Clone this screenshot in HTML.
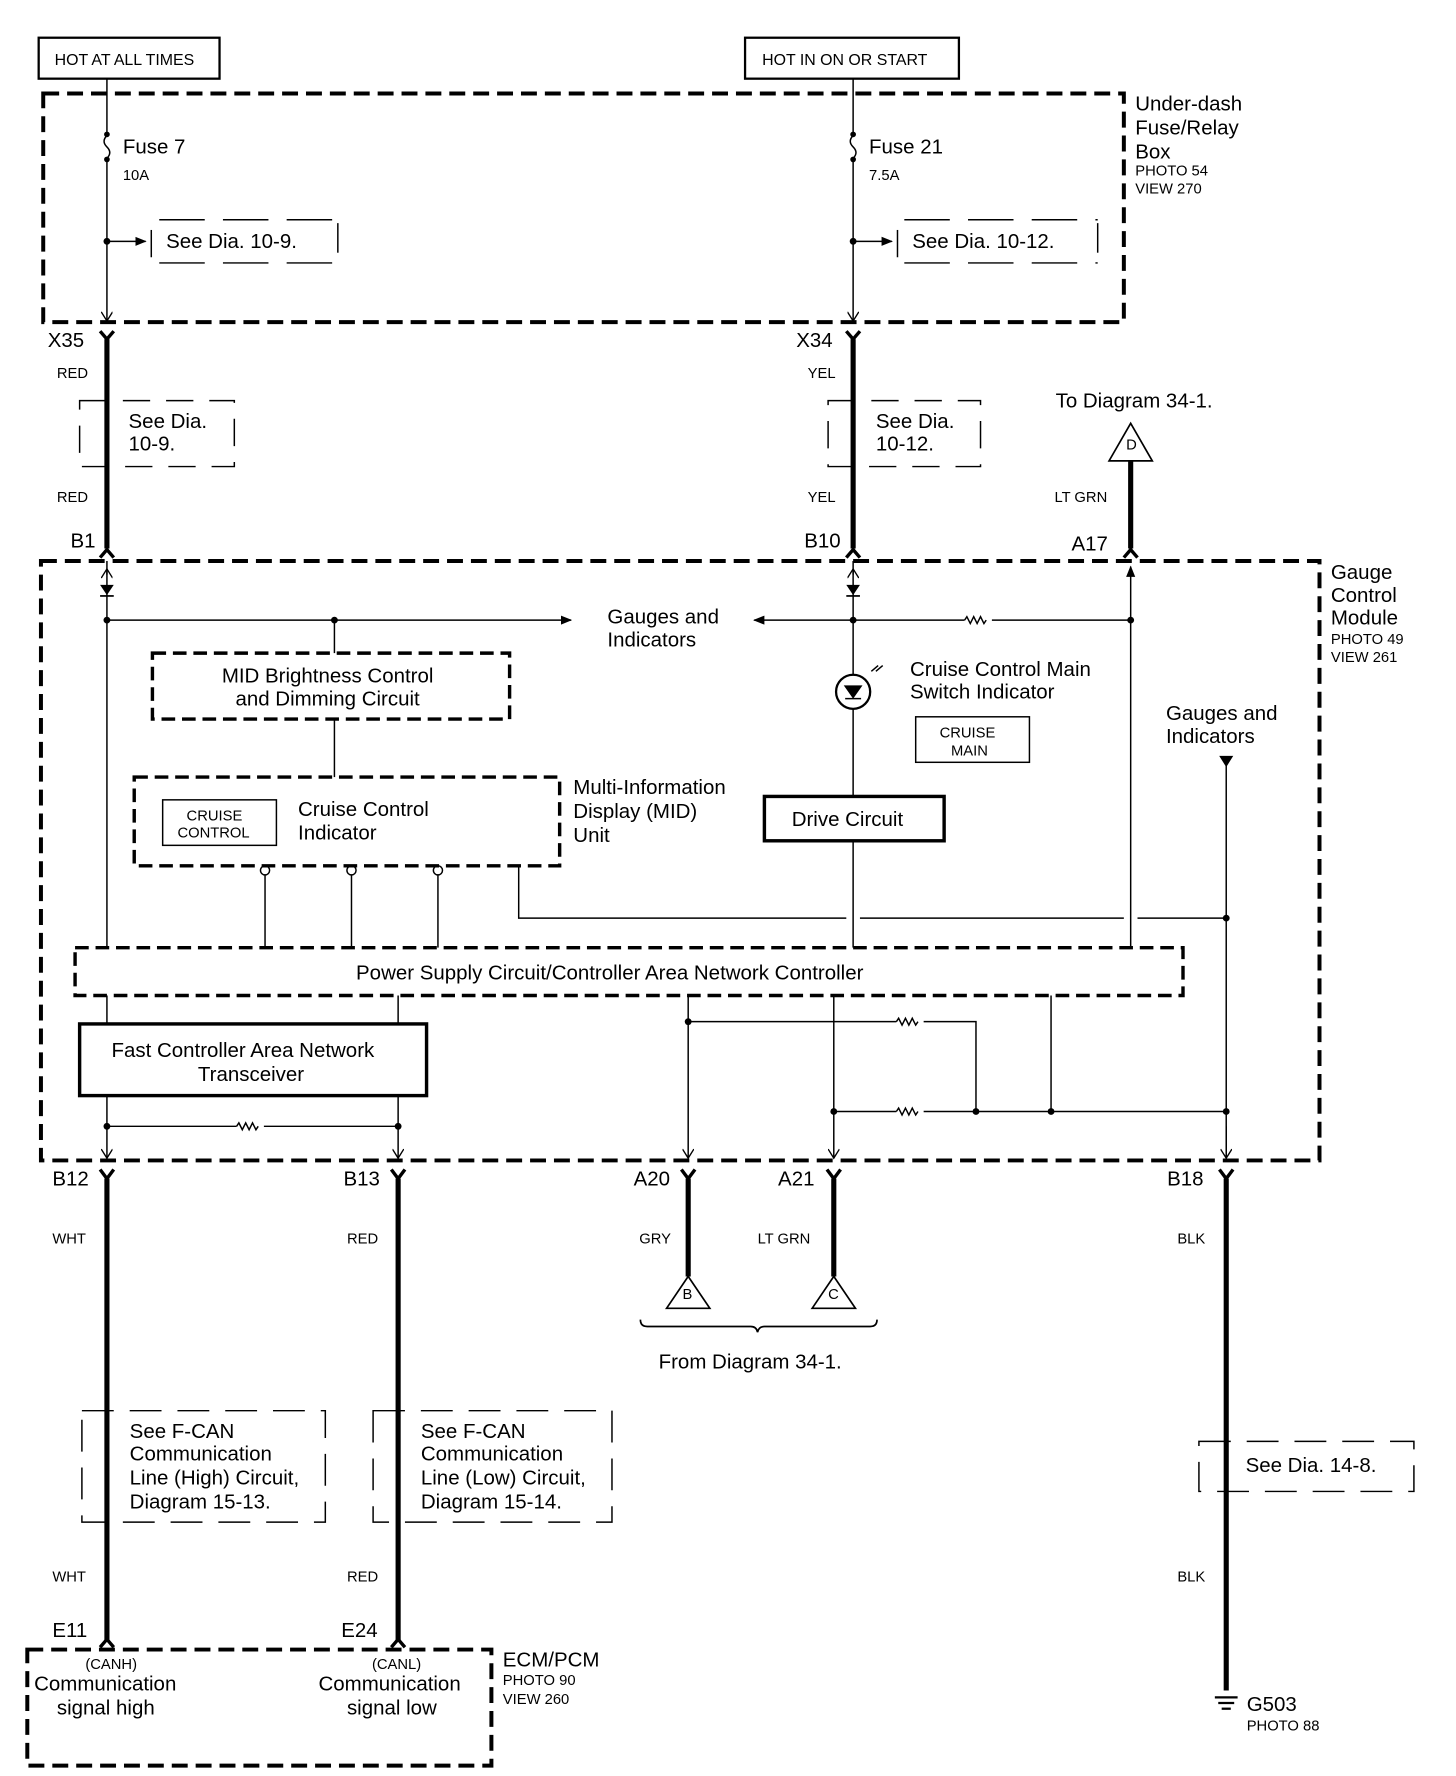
<!DOCTYPE html>
<html><head><meta charset="utf-8"><style>
html,body{margin:0;padding:0;background:#fff;}
svg{display:block;}
text{font-family:"Liberation Sans",sans-serif;fill:#000;}
</style></head><body>
<svg width="1456" height="1776" viewBox="0 0 1280 1561" xmlns="http://www.w3.org/2000/svg">
<defs>
<marker id="ar" markerWidth="10" markerHeight="10" refX="9" refY="5" orient="auto" markerUnits="userSpaceOnUse"><path d="M0,1 L10,5 L0,9 Z" fill="#000"/></marker>
<marker id="av" markerWidth="10" markerHeight="10" refX="9" refY="5" orient="auto" markerUnits="userSpaceOnUse"><path d="M1,0 L9,5 L1,10" fill="none" stroke="#000" stroke-width="1.2"/></marker>
</defs>
<g fill="none" stroke="#000">
<!-- top boxes -->
<rect x="34" y="33" width="159" height="36" stroke-width="2"/>
<rect x="655" y="33" width="188" height="36" stroke-width="2"/>
<!-- fuse box -->
<rect x="38" y="82" width="950" height="201" stroke-width="3.5" stroke-dasharray="14,7"/>
<!-- GCM box -->
<rect x="36" y="493" width="1124" height="527" stroke-width="3.5" stroke-dasharray="14,7"/>
<!-- thin wires in fuse box -->
<g stroke-width="1.3">
<line x1="94" y1="69" x2="94" y2="119"/><path d="M94,119 q-5,5 0,10 q5,5 0,10"/><line x1="94" y1="139" x2="94" y2="282" marker-end="url(#av)"/>
<line x1="750" y1="69" x2="750" y2="119"/><path d="M750,119 q-5,5 0,10 q5,5 0,10"/><line x1="750" y1="139" x2="750" y2="282" marker-end="url(#av)"/>
<line x1="94" y1="212" x2="128" y2="212" marker-end="url(#ar)"/>
<line x1="750" y1="212" x2="784" y2="212" marker-end="url(#ar)"/>
<line x1="133" y1="202" x2="133" y2="226"/><line x1="297" y1="196" x2="297" y2="222"/>
<line x1="140" y1="193" x2="295" y2="193" stroke-dasharray="40,16"/><line x1="140" y1="231" x2="295" y2="231" stroke-dasharray="40,16"/>
<line x1="789" y1="202" x2="789" y2="226"/><line x1="965" y1="196" x2="965" y2="222"/>
<line x1="795" y1="193" x2="965" y2="193" stroke-dasharray="40,16"/><line x1="795" y1="231" x2="965" y2="231" stroke-dasharray="40,16"/>
</g>
<g fill="#000" stroke="none">
<circle cx="94" cy="212" r="3"/><circle cx="750" cy="212" r="3"/>
<circle cx="94" cy="118" r="2.5"/><circle cx="94" cy="140" r="2.5"/><circle cx="750" cy="118" r="2.5"/><circle cx="750" cy="140" r="2.5"/>
</g>
<!-- thick wires top -->
<g stroke-width="4.5">
<line x1="94" y1="298" x2="94" y2="482"/>
<line x1="750" y1="298" x2="750" y2="482"/>
<line x1="994" y1="405" x2="994" y2="482"/>
</g>
<g stroke-width="3">
<path d="M88,291 L94,298 L100,291"/><path d="M744,291 L750,298 L756,291"/>
<path d="M88,490 L94,483 L100,490"/><path d="M744,490 L750,483 L756,490"/><path d="M988,490 L994,483 L1000,490"/>
</g>
<path d="M975,405 L994,372 L1013,405 Z" stroke-width="1.5"/>
<!-- see dia small -->
<g stroke-width="1.3">
<path d="M70,352 H206 V410 H70 Z" stroke-dasharray="24,14"/>
<path d="M728,352 H862 V410 H728 Z" stroke-dasharray="24,14"/>
</g>
<!-- GCM internal -->
<g stroke-width="1.3">
<line x1="94" y1="493" x2="94" y2="833"/>
<line x1="750" y1="493" x2="750" y2="593"/>
<line x1="750" y1="623" x2="750" y2="700"/>
<line x1="750" y1="739" x2="750" y2="833"/>
<line x1="994" y1="833" x2="994" y2="498" marker-end="url(#ar)"/>
<line x1="94" y1="545" x2="502" y2="545" marker-end="url(#ar)"/>
<line x1="750" y1="545" x2="663" y2="545" marker-end="url(#ar)"/>
<line x1="750" y1="545" x2="848" y2="545"/><path d="M848,545 l2,-3 l3,6 l3,-6 l3,6 l3,-6 l3,6 l2,-3"/><line x1="872" y1="545" x2="994" y2="545"/>
<line x1="294" y1="545" x2="294" y2="574"/><line x1="294" y1="632" x2="294" y2="683"/>
<circle cx="750" cy="608" r="15" stroke-width="2"/>
<path d="M743,603 L757,603 L750,613 Z" fill="#000"/><line x1="743" y1="614" x2="757" y2="614"/>
<path d="M766,590 l6,-5 m-2,5 l6,-5" />
<line x1="233" y1="769" x2="233" y2="833"/><line x1="309" y1="769" x2="309" y2="833"/><line x1="385" y1="769" x2="385" y2="833"/>
<circle cx="233" cy="765" r="4" fill="#fff"/><circle cx="309" cy="765" r="4" fill="#fff"/><circle cx="385" cy="765" r="4" fill="#fff"/>
<path d="M456,761 V807 H744 M756,807 H988 M1000,807 H1078"/>
<line x1="1078" y1="668" x2="1078" y2="1018" />
<path d="M1073,665 L1083,665 L1078,673 Z" fill="#000"/>
<line x1="94" y1="875" x2="94" y2="900"/><line x1="350" y1="875" x2="350" y2="900"/>
<line x1="94" y1="963" x2="94" y2="1018" marker-end="url(#av)"/>
<line x1="350" y1="963" x2="350" y2="1018" marker-end="url(#av)"/>
<line x1="94" y1="990" x2="208" y2="990"/><path d="M208,990 l2,-3 l3,6 l3,-6 l3,6 l3,-6 l3,6 l2,-3"/><line x1="232" y1="990" x2="350" y2="990"/>
<line x1="605" y1="875" x2="605" y2="1018" marker-end="url(#av)"/>
<line x1="733" y1="875" x2="733" y2="1018" marker-end="url(#av)"/>
<line x1="1078" y1="990" x2="1078" y2="1018" marker-end="url(#av)"/>
<line x1="605" y1="898" x2="788" y2="898"/><path d="M788,898 l2,-3 l3,6 l3,-6 l3,6 l3,-6 l3,6 l2,-3"/><path d="M812,898 H858 V977"/>
<line x1="733" y1="977" x2="788" y2="977"/><path d="M788,977 l2,-3 l3,6 l3,-6 l3,6 l3,-6 l3,6 l2,-3"/><line x1="812" y1="977" x2="1078" y2="977"/>
<line x1="924" y1="875" x2="924" y2="977"/>
<line x1="94" y1="505" x2="94" y2="500" marker-end="url(#av)"/>
<line x1="750" y1="505" x2="750" y2="500" marker-end="url(#av)"/>
</g>
<g fill="#000" stroke="none">
<path d="M88,514 L100,514 L94,523 Z"/><rect x="88" y="523" width="12" height="1.5"/>
<path d="M744,514 L756,514 L750,523 Z"/><rect x="744" y="523" width="12" height="1.5"/>
<circle cx="94" cy="545" r="3"/><circle cx="294" cy="545" r="3"/><circle cx="750" cy="545" r="3"/><circle cx="994" cy="545" r="3"/>
<circle cx="1078" cy="807" r="3"/><circle cx="94" cy="990" r="3"/><circle cx="350" cy="990" r="3"/>
<circle cx="605" cy="898" r="3"/><circle cx="733" cy="977" r="3"/><circle cx="858" cy="977" r="3"/><circle cx="924" cy="977" r="3"/><circle cx="1078" cy="977" r="3"/>
</g>
<rect x="134" y="574" width="314" height="58" stroke-width="3" stroke-dasharray="12,6"/>
<rect x="118" y="683" width="374" height="78" stroke-width="3" stroke-dasharray="12,6"/>
<rect x="143" y="703" width="100" height="40" stroke-width="1.3"/>
<rect x="805" y="630" width="100" height="40" stroke-width="1.3"/>
<rect x="672" y="700" width="158" height="39" stroke-width="3"/>
<rect x="66" y="833" width="974" height="42" stroke-width="3" stroke-dasharray="12,6" fill="#fff"/>
<rect x="70" y="900" width="305" height="63" stroke-width="3" fill="#fff"/>
<!-- bottom thick wires -->
<g stroke-width="4.5">
<line x1="94" y1="1036" x2="94" y2="1442"/>
<line x1="350" y1="1036" x2="350" y2="1442"/>
<line x1="605" y1="1036" x2="605" y2="1122"/>
<line x1="733" y1="1036" x2="733" y2="1122"/>
<line x1="1078" y1="1036" x2="1078" y2="1486"/>
</g>
<g stroke-width="3">
<path d="M88,1028 L94,1036 L100,1028"/><path d="M344,1028 L350,1036 L356,1028"/><path d="M599,1028 L605,1036 L611,1028"/><path d="M727,1028 L733,1036 L739,1028"/><path d="M1072,1028 L1078,1036 L1084,1028"/>
<path d="M88,1448 L94,1441 L100,1448"/><path d="M344,1448 L350,1441 L356,1448"/>
</g>
<path d="M586,1150 L605,1122 L624,1150 Z" stroke-width="1.5"/>
<path d="M714,1150 L733,1122 L752,1150 Z" stroke-width="1.5"/>
<path d="M563,1160 q0,6 6,6 H660 q5,0 6,5 q1,-5 6,-5 H765 q6,0 6,-6" stroke-width="1.5"/>
<g stroke-width="1.3">
<path d="M72,1240 H286 V1338 H72 Z" stroke-dasharray="28,14"/>
<path d="M328,1240 H538 V1338 H328 Z" stroke-dasharray="28,14"/>
<path d="M1054,1267 H1243 V1311 H1054 Z" stroke-dasharray="28,14"/>
</g>
<rect x="24" y="1450" width="408" height="102" stroke-width="3.5" stroke-dasharray="14,7"/>
<g stroke-width="2"><line x1="1068" y1="1492" x2="1088" y2="1492"/><line x1="1071" y1="1497" x2="1085" y2="1497"/><line x1="1074" y1="1502" x2="1082" y2="1502"/></g>
</g>
<g font-size="14">
<text x="48" y="57">HOT AT ALL TIMES</text>
<text x="670" y="57">HOT IN ON OR START</text>
</g>
<g font-size="18">
<text x="108" y="135">Fuse 7</text><text x="764" y="135">Fuse 21</text>
<text x="146" y="218">See Dia. 10-9.</text><text x="802" y="218">See Dia. 10-12.</text>
<text x="998" y="97">Under-dash</text><text x="998" y="118">Fuse/Relay</text><text x="998" y="139">Box</text>
<text x="42" y="305">X35</text><text x="700" y="305">X34</text>
<text x="113" y="376">See Dia.</text><text x="113" y="396">10-9.</text>
<text x="770" y="376">See Dia.</text><text x="770" y="396">10-12.</text>
<text x="928" y="358">To Diagram 34-1.</text>
<text x="62" y="481">B1</text><text x="707" y="481">B10</text><text x="942" y="484">A17</text>
<text x="1170" y="509">Gauge</text><text x="1170" y="529">Control</text><text x="1170" y="549">Module</text>
<text x="534" y="548">Gauges and</text><text x="534" y="568">Indicators</text>
<text x="195" y="600">MID Brightness Control</text><text x="207" y="620">and Dimming Circuit</text>
<text x="800" y="594">Cruise Control Main</text><text x="800" y="614">Switch Indicator</text>
<text x="1025" y="633">Gauges and</text><text x="1025" y="653">Indicators</text>
<text x="504" y="698">Multi-Information</text><text x="504" y="719">Display (MID)</text><text x="504" y="740">Unit</text>
<text x="262" y="717">Cruise Control</text><text x="262" y="738">Indicator</text>
<text x="696" y="726">Drive Circuit</text>
<text x="313" y="861">Power Supply Circuit/Controller Area Network Controller</text>
<text x="98" y="929">Fast Controller Area Network</text><text x="174" y="950">Transceiver</text>
<text x="46" y="1042">B12</text><text x="302" y="1042">B13</text><text x="557" y="1042">A20</text><text x="684" y="1042">A21</text><text x="1026" y="1042">B18</text>
<text x="579" y="1203">From Diagram 34-1.</text>
<text x="114" y="1264">See F-CAN</text><text x="114" y="1284">Communication</text><text x="114" y="1305">Line (High) Circuit,</text><text x="114" y="1326">Diagram 15-13.</text>
<text x="370" y="1264">See F-CAN</text><text x="370" y="1284">Communication</text><text x="370" y="1305">Line (Low) Circuit,</text><text x="370" y="1326">Diagram 15-14.</text>
<text x="1095" y="1294">See Dia. 14-8.</text>
<text x="46" y="1439">E11</text><text x="300" y="1439">E24</text>
<text x="442" y="1465">ECM/PCM</text>
<text x="30" y="1486">Communication</text><text x="50" y="1507">signal high</text>
<text x="280" y="1486">Communication</text><text x="305" y="1507">signal low</text>
<text x="1096" y="1504">G503</text>
</g>
<g font-size="13">
<text x="108" y="158">10A</text><text x="764" y="158">7.5A</text>
<text x="998" y="154">PHOTO 54</text><text x="998" y="170">VIEW 270</text>
<text x="50" y="332">RED</text><text x="50" y="441">RED</text>
<text x="710" y="332">YEL</text><text x="710" y="441">YEL</text>
<text x="927" y="441">LT GRN</text>
<text x="1170" y="566">PHOTO 49</text><text x="1170" y="582">VIEW 261</text>
<text x="826" y="648">CRUISE</text><text x="836" y="664">MAIN</text>
<text x="164" y="721">CRUISE</text><text x="156" y="736">CONTROL</text>
<text x="46" y="1093">WHT</text><text x="305" y="1093">RED</text><text x="562" y="1093">GRY</text><text x="666" y="1093">LT GRN</text><text x="1035" y="1093">BLK</text>
<text x="46" y="1390">WHT</text><text x="305" y="1390">RED</text><text x="1035" y="1390">BLK</text>
<text x="75" y="1467">(CANH)</text><text x="327" y="1467">(CANL)</text>
<text x="442" y="1481">PHOTO 90</text><text x="442" y="1498">VIEW 260</text>
<text x="1096" y="1521">PHOTO 88</text>
<text x="990" y="395">D</text><text x="600" y="1142">B</text><text x="728" y="1142">C</text>
</g>
</svg>
</body></html>
